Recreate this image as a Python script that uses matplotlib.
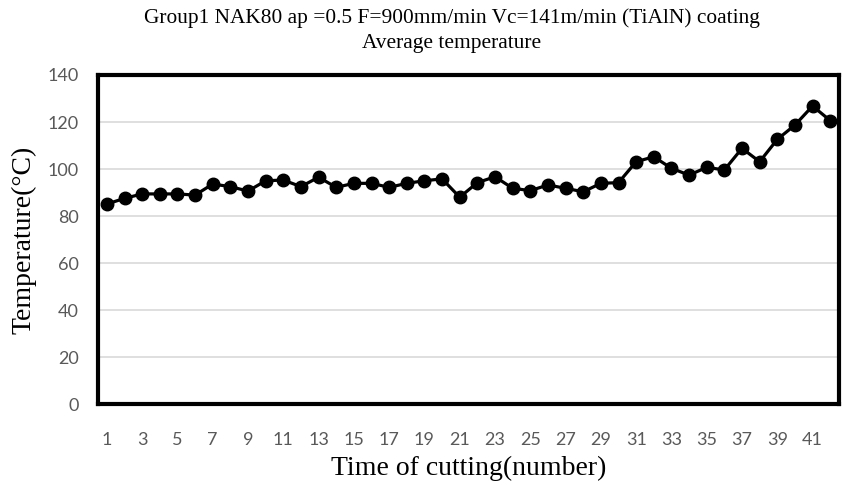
import matplotlib.pyplot as plt
import numpy as np

# Average temperature per cutting run
cut_number = list(range(1, 43))
temperature = [85.1, 87.5, 89.4, 89.4, 89.4, 88.9, 93.6, 92.5, 90.6, 95.0,
               95.3, 92.5, 96.5, 92.2, 93.9, 93.9, 92.2, 93.9, 95.0, 95.8,
               88.0, 94.2, 96.7, 91.8, 90.8, 93.2, 91.8, 90.3, 93.9, 94.2,
               103.1, 105.2, 100.3, 97.4, 100.7, 99.6, 108.8, 103.1, 112.6, 118.7,
               126.8, 120.6]
y_ticks = [0, 20, 40, 60, 80, 100, 120, 140]
x_ticks = list(range(1, 43, 2))

title_text = "Group1 NAK80 ap =0.5 F=900mm/min Vc=141m/min (TiAlN) coating\nAverage temperature"

serif = ['Liberation Serif', 'DejaVu Serif']
sans = ['Lato', 'DejaVu Sans']
tick_color = '#595959'

fig = plt.figure(figsize=(8.43, 4.82), dpi=100)
ax = fig.add_axes([0.1163, 0.1618, 0.879, 0.6826])

ax.plot(cut_number, temperature, '-o', color='black', linewidth=2.3,
        markersize=9, zorder=3)

ax.set_xlim(0.5, 42.5)
ax.set_ylim(0, 140)
ax.set_yticks(y_ticks)
ax.set_xticks(x_ticks)
ax.grid(axis='y', color='#d9d9d9', linewidth=1.2)
ax.set_axisbelow(True)

for s in ax.spines.values():
    s.set_linewidth(3)
    s.set_color('black')

ax.tick_params(length=0, labelcolor=tick_color)
ax.tick_params(axis='y', pad=14)
ax.tick_params(axis='x', pad=20)
for lbl in ax.get_xticklabels() + ax.get_yticklabels():
    lbl.set_family(sans)
    lbl.set_fontsize(13)

ax.set_xlabel("Time of cutting(number)", family=serif, fontsize=20, labelpad=6)
ax.set_ylabel("Temperature(\u00b0C)", family=serif, fontsize=20, labelpad=8)

fig.text(0.536, 0.982, title_text, family=serif, fontsize=15.4,
         ha='center', va='top', linespacing=1.42)

fig.savefig('out.png', dpi=100)
